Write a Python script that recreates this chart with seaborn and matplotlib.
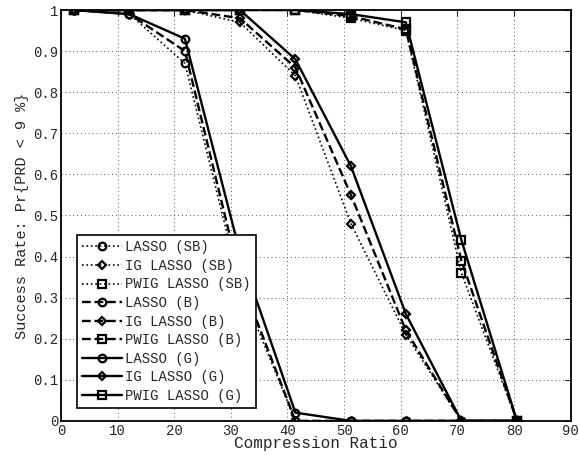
import matplotlib
matplotlib.use("Agg")
import matplotlib.pyplot as plt
import seaborn as sns
import pandas as pd

cr = [2.34, 12.1, 21.9, 31.6, 41.4, 51.2, 60.9, 70.7, 80.5]

lasso_sb = [1.0, 0.99, 0.87, 0.33, 0.0, 0.0, 0.0, 0.0, 0.0]
ig_sb = [1.0, 1.0, 1.0, 0.97, 0.84, 0.48, 0.21, 0.0, 0.0]
pwig_sb = [1.0, 1.0, 1.0, 1.0, 1.0, 0.98, 0.95, 0.36, 0.0]
lasso_b = [1.0, 0.99, 0.90, 0.35, 0.0, 0.0, 0.0, 0.0, 0.0]
ig_b = [1.0, 1.0, 1.0, 0.98, 0.86, 0.55, 0.22, 0.0, 0.0]
pwig_b = [1.0, 1.0, 1.0, 1.0, 1.0, 0.985, 0.953, 0.39, 0.0]
lasso_g = [1.0, 0.99, 0.93, 0.41, 0.02, 0.0, 0.0, 0.0, 0.0]
ig_g = [1.0, 1.0, 1.0, 1.0, 0.88, 0.62, 0.26, 0.0, 0.0]
pwig_g = [1.0, 1.0, 1.0, 1.0, 1.0, 0.99, 0.97, 0.44, 0.0]

labels = ["LASSO (SB)", "IG LASSO (SB)", "PWIG LASSO (SB)",
          "LASSO (B)", "IG LASSO (B)", "PWIG LASSO (B)",
          "LASSO (G)", "IG LASSO (G)", "PWIG LASSO (G)"]
series = [lasso_sb, ig_sb, pwig_sb, lasso_b, ig_b, pwig_b, lasso_g, ig_g, pwig_g]
styles = [":", ":", ":", "--", "--", "--", "-", "-", "-"]
markers = ["o", "D", "s"] * 3

sns.set_style("white")
plt.rcParams["font.family"] = ["Liberation Mono", "DejaVu Sans Mono"]

fig = plt.figure(figsize=(5.8, 4.55), dpi=100)
ax = fig.add_axes([0.105, 0.075, 0.879, 0.903])

for lab, vals, ls, mk in zip(labels, series, styles, markers):
    df = pd.DataFrame({"cr": cr, "rate": vals})
    sns.lineplot(data=df, x="cr", y="rate", ax=ax, color="black",
                 linestyle=ls, linewidth=1.7 if ls != ":" else 1.2,
                 marker=mk, markersize=5.5 if mk != "D" else 4.5,
                 markerfacecolor="none", markeredgecolor="black",
                 markeredgewidth=1.6, label=lab)

ax.set_xlim(0, 90)
ax.set_ylim(0, 1)
ax.set_xticks(range(0, 91, 10))
ax.set_yticks([i / 10 for i in range(11)])
ax.set_yticklabels(["0"] + [f"0.{i}" for i in range(1, 10)] + ["1"])
ax.grid(True, linestyle=(0, (1, 3)), color="#555555", linewidth=0.7)
ax.tick_params(direction="in", top=True, right=True, labelsize=10, length=4, pad=2)
for s in ax.spines.values():
    s.set_color("black")
    s.set_linewidth(1.3)
ax.set_xlabel("Compression Ratio", fontsize=11.5, labelpad=-1)
ax.set_ylabel("Success Rate: Pr{PRD < 9 %}", fontsize=11, labelpad=3)

leg = ax.legend(loc="lower left", bbox_to_anchor=(0.032, 0.032), fontsize=10,
                frameon=True, fancybox=False, edgecolor="black", framealpha=1,
                borderaxespad=0, handlelength=2.9, labelspacing=0.33,
                handletextpad=0.2, borderpad=0.35)
leg.get_frame().set_linewidth(1.2)

fig.savefig("out.png", dpi=100)
